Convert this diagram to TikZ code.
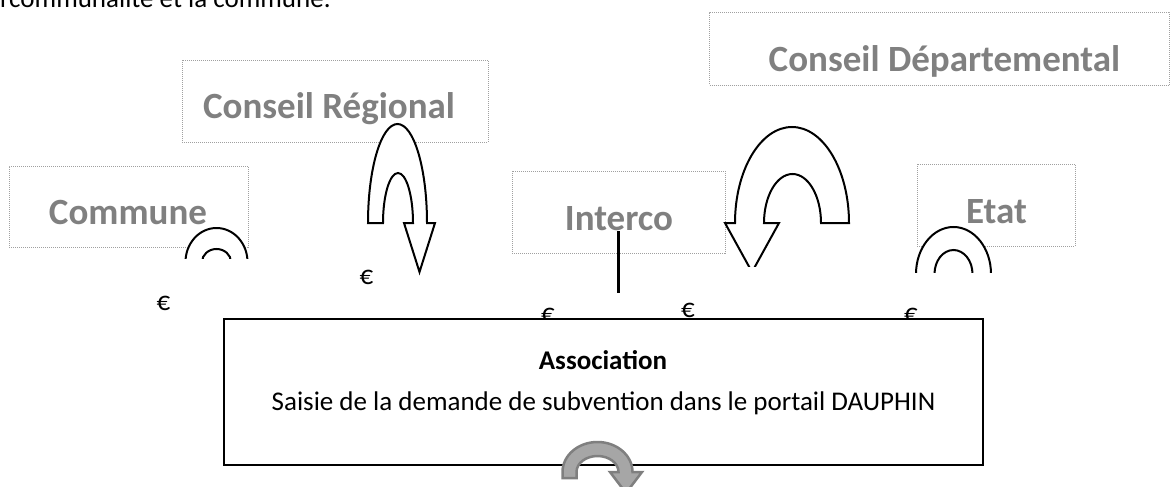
\documentclass[tikz,border=0pt]{standalone}
\usepackage{fontspec}
\setmainfont{Carlito}
\definecolor{lbl}{HTML}{808080}
\definecolor{boxln}{HTML}{A0A0A0}
\definecolor{arrfill}{HTML}{A6A6A6}
\definecolor{arrline}{HTML}{7F7F7F}
\tikzset{
  lblbox/.style={draw=boxln, line width=0.8pt, dash pattern=on 1pt off 1pt, inner sep=0pt},
  lbltext/.style={text=lbl, font=\fontsize{37}{44}\selectfont\bfseries, inner sep=0pt, anchor=base},
  bodytext/.style={font=\fontsize{27}{32}\selectfont, inner sep=0pt, anchor=base},
  outl/.style={draw=black, line width=2pt, fill=white, line join=miter},
  greyarrow/.style={draw=arrline, line width=2.5pt, fill=arrfill, line join=miter}
}
\begin{document}
\begin{tikzpicture}[x=1pt,y=-1pt]
\useasboundingbox (0,0) rectangle (1170,487);
\clip (0,0) rectangle (1170,487);

% clipped line of text at the top
\node[bodytext, anchor=base west] (toptext) at (0,7.5) {rcommunalité et la commune.};

% label boxes
\node[lblbox, minimum width=239pt, minimum height=81pt] (communebox) at (128.5,206.5) {};
\node[lblbox, minimum width=306pt, minimum height=82pt] (regionbox) at (335,101) {};
\node[lblbox, minimum width=213pt, minimum height=82pt] (intercobox) at (618.5,212) {};
\node[lblbox, minimum width=460pt, minimum height=73pt] (deptbox) at (939.5,48.5) {};
\node[lblbox, minimum width=158pt, minimum height=82pt] (etatbox) at (996,205) {};

% label texts
\node[lbltext] (commune) at (128,224) {Commune};
\node[lbltext] (region) at (329,118) {Conseil Régional};
\node[lbltext] (interco) at (619,230) {Interco};
\node[lbltext] (dept) at (944.5,71) {Conseil Départemental};
\node[lbltext] (etat) at (996.5,223) {Etat};

% euro signs
\node[bodytext] (e1) at (163.5,310) {€};
\node[bodytext] (e2) at (366.5,284) {€};
\node[bodytext] (e3) at (548,322) {€};
\node[bodytext] (e4) at (688,317) {€};
\node[bodytext] (e5) at (911,322) {€};

% association box
\node[draw=black, line width=2pt, fill=white, minimum width=759pt, minimum height=146pt, inner sep=0pt] (assoc) at (603.5,392) {};
\node[bodytext, font=\fontsize{27}{32}\selectfont\bfseries] (assoctitle) at (603,369) {Association};
\node[bodytext] (assoctext) at (603.5,410) {Saisie de la demande de subvention dans le portail DAUPHIN};

% Commune arc (clipped)
\begin{scope}
\clip (150,200) rectangle (260,258);
\draw[outl] (185.5,262) arc[start angle=180, end angle=360, x radius=31, y radius=34]
  -- (231,262) arc[start angle=360, end angle=180, x radius=14.5, y radius=13] -- cycle;
\end{scope}

% Etat arc (clipped)
\begin{scope}
\clip (900,210) rectangle (1010,272);
\draw[outl] (916,274) arc[start angle=180, end angle=360, x radius=37.5, y radius=47]
  -- (972.5,274) arc[start angle=360, end angle=180, x radius=19, y radius=24] -- cycle;
\end{scope}

% Conseil Regional U-turn arrow
\draw[outl] (368,223) -- (383,223)
  arc[start angle=180, end angle=360, x radius=15, y radius=50]
  -- (404,223) -- (419.5,272) -- (435,223) -- (427,223)
  arc[start angle=360, end angle=180, x radius=29.5, y radius=99] -- cycle;

% Conseil Departemental U-turn arrow (clipped)
\begin{scope}
\clip (700,100) rectangle (870,266);
\draw[outl] (849,223) -- (821,223)
  arc[start angle=360, end angle=180, x radius=28.5, y radius=49]
  -- (779,223) -- (752,272) -- (725,223) -- (735,223)
  arc[start angle=180, end angle=360, x radius=57, y radius=96] -- cycle;
\end{scope}

% Interco line
\coordinate (ltop) at (618,231);
\coordinate (lbot) at (618,293);
\draw[line width=3pt] (ltop) -- (lbot);

% grey circular arrow
\draw[greyarrow] (562.5,478) -- (562.5,472)
  arc[start angle=180, end angle=360, x radius=35, y radius=30]
  -- (642,472) -- (626,493) -- (610,472) -- (618.5,472)
  arc[start angle=360, end angle=180, x radius=21, y radius=16]
  -- (576.5,478) -- cycle;
\end{tikzpicture}
\end{document}
